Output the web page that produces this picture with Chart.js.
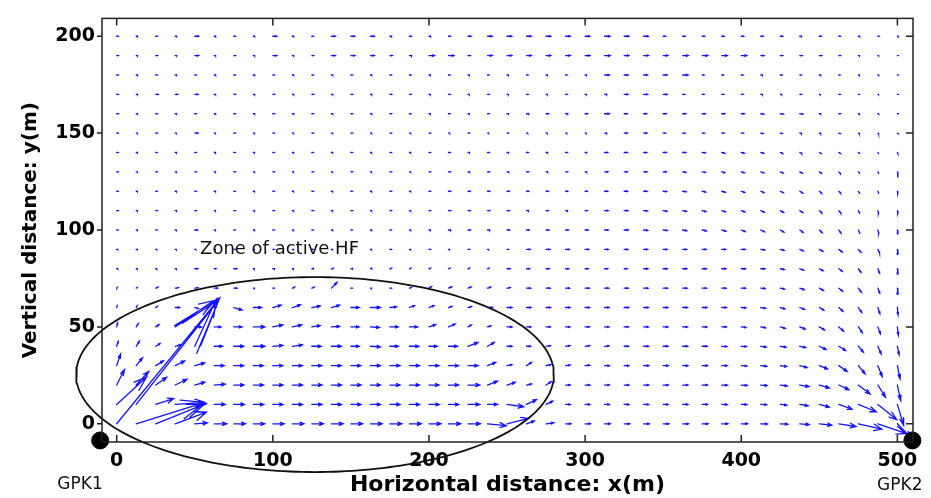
<!DOCTYPE html>
<html>
<head>
<meta charset="utf-8">
<script src="https://cdn.jsdelivr.net/npm/chart.js@4.4.0/dist/chart.umd.min.js"></script>
<style>
html, body { margin: 0; padding: 0; background: #fff; }
</style>
</head>
<body>
<canvas id="flowChart" width="931" height="498"></canvas>
<script>
// grid of the quiver plot (m)
var xGrid = [0,12.5,25,37.5,50,62.5,75,87.5,100,112.5,125,137.5,150,162.5,175,187.5,200,212.5,225,237.5,250,262.5,275,287.5,300,312.5,325,337.5,350,362.5,375,387.5,400,412.5,425,437.5,450,462.5,475,487.5,500];
var yGrid = [0,10,20,30,40,50,60,70,80,90,100,110,120,130,140,150,160,170,180,190,200];

var xTicks = [0,100,200,300,400,500];
var yTicks = [0,50,100,150,200];

// horizontal component of each arrow, one row per yGrid value
var uRows = [
 [66,44,31,20,8,8,7.5,7.3,7.3,7.4, 7.4,7.5,7.5,7.5,7.6,7.6,7.7,7.8,8,12, 13.5,5,5,3.5,3.5,3.6,3.6,3.6,3.6,3.7, 3.8,3.9,4,4.3,4.8,6,8,11,15,18, 9],
 [19,53,11.5,19,7.5,7,6.8,6.6,6.5,6.5, 6.5,6.5,6.5,6.5,6.5,6.5,6.6,6.6,7.5,6.4, 10.7,6.4,4.3,3,3,3,3,3.2,3.2,3.3, 3.4,3.5,3.6,3.8,4.2,5.3,6.4,8.5,11.5,12, 4],
 [5,8,7,7.5,6.5,7,6.5,6.5,6.5,6.5, 6.5,6.5,6.5,6.4,6.4,6.4,6.4,6.5,7.5,6.4, 5.3,3.2,3.2,3,3,3,3,3.3,3.3,3.4, 3.5,3.6,3.8,4,4.5,5.8,6.4,6.4,7.5,4.9, 2.1],
 [2.5,4,5,6,6.4,6.4,6.4,6.4,6.4,6.4, 6.4,6.4,6.4,6.5,6.5,6.5,6.5,6.5,6.4,5.3, 3.2,3.2,3,3,3,3,3,3.2,3.2,3.3, 3.4,3.5,3.6,3.8,4.1,4.7,5.3,5.3,4.3,2.8, 1.7],
 [1,2,2.8,3.8,14,5.3,6.4,7.4,6.4,6.4, 6,6.4,5.3,6.4,5.3,6,5.3,5.8,6.4,4.3, 3.2,2.6,2.8,2.8,2.8,2.8,2.8,3.1,3.1,3.2, 3.2,3.3,3.4,3.5,3.7,3.8,4.3,4.3,3.2,2.1, 1.1],
 [0.6,1.3,2.1,24.5,4.3,4.3,5.3,7.4,6.4,6, 5.3,5.3,5.3,5.8,5.3,5.3,4.3,4.3,2.1,2.1, 3.2,2.8,2.8,2.8,2.8,2.8,2.8,3,3,3, 3,3,3,3.1,3.2,3.4,3.3,3,2.5,1.6, 0.6],
 [0.3,0.6,1,2.8,2.2,1.2,5.3,5.3,5.3,5.3, 5.3,5.3,5.3,6.4,4.3,3.2,3.2,2.2,2.2,3.2, 3.2,2.8,2.8,2.8,2.8,2.8,2.8,3,3,3, 3,3,3,3,3,3,2.9,2.6,2.1,1.3, 0.4],
 [0.3,0.6,1.5,2,2,2,2,0.8,0.8,1.5, 1.5,3.6,0.8,0.8,0.8,1.2,1.6,2,2,2, 2,2.6,2.6,2.6,2.6,2.6,2.6,2.8,2.8,2.8, 2.8,2.8,2.8,2.8,2.8,2.8,2.6,2.4,1.9,1.2, 0.3],
 [0.8,0.8,0.8,0.8,2,1.2,2,0.8,1.2,0.8, 1.2,1.2,1.2,1,1,1,1,1,1,1, 2,2,2,2,2,2,2,2.6,2.6,2.6, 2.6,2.6,2.6,2.6,2.6,2.5,2.4,2.2,1.7,1.1, 0.3],
 [0.8,0.8,0.8,0.8,0.8,0.8,0.8,0.8,0.8,0.8, 0.8,0.8,0.8,0.8,0.8,0.8,0.8,0.8,0.8,0.8, 0.8,2.3,2.3,2.3,2.3,2.3,2.3,2.5,2.5,2.5, 2.5,2.5,2.5,2.5,2.5,2.4,2.3,2.1,1.7,1.1, 0.3],
 [0.9,0.9,0.9,0.9,1.8,0.9,0.9,0.9,0.9,0.9, 0.9,0.9,0.9,0.9,0.9,0.9,1,1.5,1.5,1.5, 1.6,1.6,1.8,1.8,2,2.4,2.6,2.6,2.6,2.6, 2.6,2.6,2.5,2.4,2.3,2.1,1.8,1.4,1,0.6, 0.3],
 [0.9,0.9,0.9,0.9,0.9,0.9,0.9,0.9,0.9,0.9, 0.9,0.9,0.9,0.9,0.9,0.9,0.9,1.4,1.4,1.4, 1.4,1.4,1.4,1.4,1.4,2.2,2.4,2.4,2.4,2.4, 2.4,2.4,2.3,2.2,2.1,1.9,1.6,1.3,0.9,0.5, 0.3],
 [0.9,0.9,0.9,0.9,0.9,0.9,0.9,0.9,0.9,0.9, 0.9,0.9,0.9,0.9,0.9,0.9,0.9,1.3,1.3,1.3, 1.3,1.3,1.3,1.3,1.3,2,2.2,2.2,2.2,2.2, 2.2,2.2,2.2,2,2,1.8,1.5,1.2,0.8,0.5, 0.3],
 [0.9,0.9,0.9,0.9,0.9,0.9,0.9,0.9,0.9,0.9, 0.9,0.9,0.9,0.9,0.9,0.9,0.9,1.2,1.2,1.2, 1.2,1.2,1.2,1.2,1.2,2,2,2,2,2, 2,2,2,2,1.8,1.6,1.3,1,0.8,0.5, 0.3],
 [0.9,0.9,0.9,0.9,0.9,0.9,0.9,0.9,0.9,0.9, 0.9,0.9,0.9,0.9,0.9,0.9,0.9,1.1,1.1,1.1, 1.1,1.1,1.1,1.1,1.1,2,2,2,2,2, 2,2,2,1.8,1.6,1.4,1.2,1,0.8,0.5, 0.3],
 [0.9,0.9,0.9,0.9,2,0.9,0.9,0.9,0.9,0.9, 0.9,0.9,0.9,0.9,0.9,0.9,0.9,0.9,0.9,0.9, 0.9,0.9,0.9,0.9,0.9,1.5,2,2,1.5,1.5, 1.5,1.5,1.5,1.5,1.2,1.2,1,1,0.8,0.6, 0.5],
 [1,1,1,1,1,1,1,1,1,1, 1,1,1,1,1,1,1,1,1,1, 1,1.5,1.5,1.5,1.5,3,2,2,2,2, 2,2,2,2,2,2,1,1,0.8,0.6, 0.5],
 [1,1,1.5,1.5,2,1,1,1,1,1, 1,1,1,1,1,1,1,1,1,1, 1,1,1,1,1,1.5,2.5,2.5,2.5,1.2, 1.2,1.2,1.2,1.2,1,1,0.8,0.8,0.6,0.5, 0.5],
 [1,1,1,1,1,1,1,1,1,1, 1,1,1,1,1,1,1,1,1,1, 1,1,1,1,1,3,2.5,2.5,2.5,3.5, 1.2,1.2,1.2,1.2,1.2,1,1,0.8,0.8,0.6, 0.5],
 [1,1,1,1,2.5,1,1,1,2.5,1, 1,2.5,2.5,2.5,1.5,1.5,3.5,3.5,1.5,3, 3,3,3,3,3,3.5,3,3,3,3.5, 3.5,3.5,3.5,2,1.5,1.5,1.5,1,0.8,0.6, 0.5],
 [1,1,1,1,2.5,1,1,1,2.5,1, 1,2.5,2.5,2.5,1.2,1.2,1.2,1.2,2,3, 3,3,3,3,3,3.5,3,3,1.5,1.5, 1.5,1.5,1.5,1.5,1.5,1.2,1.2,1,1,0.8, 0.6]
];

// vertical component of each arrow
var vRows = [
 [65,11,10,6,0.5,0,0,0,0,0, 0,0,0,0,0,0,0,0,0,-1, 2.8,1.5,0.5,0,0,0,0,0,0,0, 0,0,0,-0.1,-0.2,-0.4,-0.7,-1.4,-2.8,-5, -7.5],
 [14,54,3,1,0.3,0,0,0,0,0, 0,0,0,0,0,0,0,0,0,0, -1.2,2.5,1.7,0,0,0,0,0,0,0, 0,-0.1,-0.1,-0.2,-0.4,-0.7,-1.4,-2.5,-3.8,-7.8, -10.8],
 [8,7,4,3,1.5,0.5,0,0,0,0, 0,0,0,0,0,0,0,0,0,2, 1.4,0.5,1.7,0,0,0,0,0,0,0, 0,-0.1,-0.2,-0.3,-0.5,-0.8,-1.5,-2.4,-4.6,-6.3, -8],
 [6,4,2.5,2.4,1.4,0,0,0,0,0, 0,0,0,0,0,0,0,0,0,1.7, 0.5,1.7,0.5,0.3,0.2,0,0,0,0,0, 0,0,-0.2,-0.3,-0.5,-1,-1.7,-3,-4.2,-5.6, -6.8],
 [2.5,2.5,1.4,0.8,24.5,0,0,0,0.5,0.7, 0,0,0,-0.3,0,0,0,0,2,2, 0,0,0.3,0.3,0.3,0.2,0,0,0,0, 0,-0.2,-0.2,-0.4,-0.5,-0.7,-1.7,-2.2,-3,-3.9, -4.4],
 [2,1.6,1.2,13.5,0,0,0,0,1,1, 0.7,0.3,0,-0.3,0,0,1.2,1.5,1,0.5, 0,0,0,0,0,0,0,0,0,0, 0,0,-0.3,-0.5,-0.8,-1.1,-1.6,-2.2,-3,-3.6, -4.2],
 [0.8,0.8,0.6,0,-0.5,0,-1.3,0,1.2,1.4, 0.8,1.2,0,0,0.3,1,1,0.6,0.5,0, 0,0,0,0,0,0,0,0,0,0, 0,0,-0.2,-0.4,-0.7,-1,-1.4,-1.9,-2.5,-3.2, -3.8],
 [0.3,0.3,0.5,0.3,0.2,0,0,0,0,0.6, 0.5,3,0,0,0,0.3,0.8,0.6,0.6,0.5, 0.3,0,0,0,0,0,0,0,0,0, 0,0,0,-0.3,-0.5,-0.8,-1.2,-1.6,-2.1,-2.6, -3.2],
 [0,0,0,0,0,0,0,0,0,0, 0.2,0.2,0.2,0.3,0.3,0.3,0.3,0.3,0.3,0.3, 0,0,0,0,0,0,0,0,0,0, 0,0,0,0,-0.4,-0.7,-1,-1.3,-1.8,-2.2, -2.8],
 [0,0,0,0,0,0,0,0,0,0, 0,0,0,0,0,0,0,0,0,0, 0,0,0,0,0,0,0,0,0,0, 0,0,0,-0.3,-0.5,-0.8,-1,-1.3,-1.5,-1.7, -2.5],
 [0,0,0,0,0,0,0,0,0,0, 0,0,0,0,0,0,0,0,0,0, 0,0,0,0,0,0,0,-0.2,-0.3,-0.4, -0.5,-0.6,-0.8,-0.9,-1.1,-1.2,-1.4,-1.6,-1.8,-1.9, -2],
 [0,0,0,0,0,0,0,0,0,0, 0,0,0,0,0,0,0,0,0,0, 0,0,0,0,0,0,0,-0.2,-0.3,-0.4, -0.5,-0.6,-0.7,-0.8,-0.9,-1,-1.2,-1.3,-1.4,-1.5, -1.6],
 [0,0,0,0,0,0,0,0,0,0, 0,0,0,0,0,0,0,0,0,0, 0,0,0,0,0,0,0,0,-0.2,-0.3, -0.4,-0.5,-0.6,-0.7,-0.8,-0.9,-1,-1,-1.1,-1.1, -1.2],
 [0,0,0,0,0,0,0,0,0,0, 0,0,0,0,0,0,0,0,0,0, 0,0,0,0,0,0,0,0,0,-0.2, -0.3,-0.4,-0.5,-0.5,-0.6,-0.7,-0.7,-0.8,-0.8,-0.9, -0.9],
 [0,0,0,0,0,0,0,0,0,0, 0,0,0,0,0,0,0,0,0,0, 0,0,0,0,0,0,0,0,0,0, -0.2,-0.3,-0.3,-0.4,-0.5,-0.5,-0.5,-0.5,-0.5,-0.6, -0.6],
 [0,0,0,0,0,0,0,0,0,0, 0,0,0,0,0,0,0,0,0,0, 0,0,0,0,0,0,0,0,0,0, 0,0,0,-0.2,-0.2,-0.2,-0.2,-0.3,-0.3,-0.3, -0.3],
 [0,0,0,0,0,0,0,0,0,0, 0,0,0,0,0,0,0,0,0,0, 0,0,0,0,0,0,0,0,0,0, 0,0,0,-0.2,-0.2,-0.2,0,0,0,0, 0],
 [0,0,0,0,0,0,0,0,0,0, 0,0,0,0,0,0,0,0,0,0, 0,0,0,0,0,0,0,0,0,0, 0,0,0,0,0,0,0,0,0,0, 0],
 [0,0,0,0,0,0,0,0,0,0, 0,0,0,0,0,0,0,0,0,0, 0,0,0,0,0,0,0,0,0,0, 0,0,0,0,0,0,0,0,0,0, 0],
 [0,0,0,0,0,0,0,0,0,0, 0,0,0,0,0,0,0,0,0,0, 0,0,0,0,0,0,0,0,0,0, 0,0,0,0,0,0,0,0,0,0, 0],
 [0,0,0,0,0,0,0,0,0,0, 0,0,0,0,0,0,0,0,0,0, 0,0,0,0,0,0,0,0,0,0, 0,0,0,0,0,0,0,0,0,0, 0]
];

// wells
var wellNames = ['GPK1', 'GPK2'];
var wellX = [-10.6, 509.6];
var wellY = [-8.6, -8.6];

// zone of active HF (ellipse)
var zoneCenter = [127, 25.4];
var zoneRadii = [153, 50.3];

var noteText = ['Zone of active HF', 'GPK1', 'GPK2'];
var noteX = [53.4, -38, 487];
var noteY = [90, -31.3, -32.1];

// quiver arrows as line pieces split with gaps (matlab style heads)
var alpha = 0.33, beta = 0.33;
var gap = {x: NaN, y: NaN};
var arrowData = [];
for (var j = 0; j < yGrid.length; j++) {
    for (var i = 0; i < xGrid.length; i++) {
        var x0 = xGrid[i], y0 = yGrid[j];
        var u = uRows[j][i], v = vRows[j][i];
        var x1 = x0 + u, y1 = y0 + v;
        arrowData.push({x: x0, y: y0}, {x: x1, y: y1}, gap);
        arrowData.push({x: x1 - alpha * (u + beta * v), y: y1 - alpha * (v - beta * u)});
        arrowData.push({x: x1, y: y1});
        arrowData.push({x: x1 - alpha * (u - beta * v), y: y1 - alpha * (v + beta * u)}, gap);
    }
}

var zoneData = [];
for (var k = 0; k <= 240; k++) {
    var t = k / 240 * 2 * Math.PI;
    zoneData.push({x: zoneCenter[0] + zoneRadii[0] * Math.cos(t), y: zoneCenter[1] + zoneRadii[1] * Math.sin(t)});
}

var wellData = [];
for (var w = 0; w < wellNames.length; w++) {
    wellData.push({x: wellX[w], y: wellY[w]});
}

// box with matlab like ticks + free text labels
var frameTicks = {
    id: 'frameTicks',
    afterDatasetsDraw: function(chart) {
        var c = chart.ctx, a = chart.chartArea;
        var sx = chart.scales.x, sy = chart.scales.y;
        c.save();
        c.strokeStyle = '#222';
        c.lineWidth = 1.5;
        c.strokeRect(a.left, a.top, a.right - a.left, a.bottom - a.top);
        c.beginPath();
        sx.ticks.forEach(function(tk) {
            var p = sx.getPixelForValue(tk.value);
            c.moveTo(p, a.bottom); c.lineTo(p, a.bottom - 7);
            c.moveTo(p, a.top); c.lineTo(p, a.top + 7);
        });
        sy.ticks.forEach(function(tk) {
            var p = sy.getPixelForValue(tk.value);
            c.moveTo(a.left, p); c.lineTo(a.left - 5, p);
            c.moveTo(a.right, p); c.lineTo(a.right - 7, p);
        });
        c.stroke();

        c.fillStyle = '#111';
        c.textBaseline = 'middle';
        c.textAlign = 'left';
        for (var n = 0; n < noteText.length; n++) {
            c.font = (n === 0 ? '18px' : '17px') + ' "DejaVu Sans"';
            c.fillText(noteText[n], sx.getPixelForValue(noteX[n]), sy.getPixelForValue(noteY[n]));
        }
        c.restore();
    }
};

var ctx = document.getElementById('flowChart');

new Chart(ctx, {
    type: 'scatter',
    data: {
        datasets: [
            {
                label: 'zone',
                data: zoneData,
                showLine: true,
                borderColor: '#111',
                borderWidth: 1.8,
                pointRadius: 0,
                clip: false,
                order: 0
            },
            {
                label: 'wells',
                data: wellData,
                showLine: false,
                pointRadius: 8.5,
                pointHoverRadius: 8.5,
                backgroundColor: '#000',
                borderColor: '#000',
                clip: false,
                order: 1
            },
            {
                label: 'flow',
                data: arrowData,
                showLine: true,
                spanGaps: false,
                borderColor: '#1414ff',
                borderWidth: 1.3,
                borderCapStyle: 'round',
                pointRadius: 0,
                order: 2
            }
        ]
    },
    options: {
        responsive: false,
        animation: false,
        devicePixelRatio: 1,
        layout: { padding: { top: 12, right: 18, left: 0, bottom: 0 } },
        plugins: {
            legend: { display: false },
            tooltip: { enabled: false }
        },
        scales: {
            x: {
                type: 'linear',
                min: -9.4,
                max: 510,
                grid: { display: false, drawTicks: false },
                border: { display: false },
                afterFit: function(scale) { scale.height = 56; },
                afterBuildTicks: function(scale) {
                    scale.ticks = xTicks.map(function(val) { return {value: val}; });
                },
                ticks: {
                    padding: 8,
                    maxRotation: 0,
                    color: '#000',
                    font: { family: 'DejaVu Sans', size: 19, weight: 'bold' }
                },
                title: {
                    display: true,
                    text: 'Horizontal distance: x(m)',
                    color: '#000',
                    padding: { top: 0, bottom: 0 },
                    font: { family: 'DejaVu Sans', size: 22, weight: 'bold' }
                }
            },
            y: {
                type: 'linear',
                min: -9.4,
                max: 209.2,
                grid: { display: false, drawTicks: false },
                border: { display: false },
                afterFit: function(scale) { scale.width = 102; },
                afterBuildTicks: function(scale) {
                    scale.ticks = yTicks.map(function(val) { return {value: val}; });
                },
                ticks: {
                    padding: 7,
                    color: '#000',
                    font: { family: 'DejaVu Sans', size: 19, weight: 'bold' }
                },
                title: {
                    display: true,
                    text: 'Vertical distance: y(m)',
                    color: '#000',
                    padding: { top: 19, bottom: 0 },
                    font: { family: 'DejaVu Sans', size: 20, weight: 'bold' }
                }
            }
        }
    },
    plugins: [frameTicks]
});
</script>
</body>
</html>
